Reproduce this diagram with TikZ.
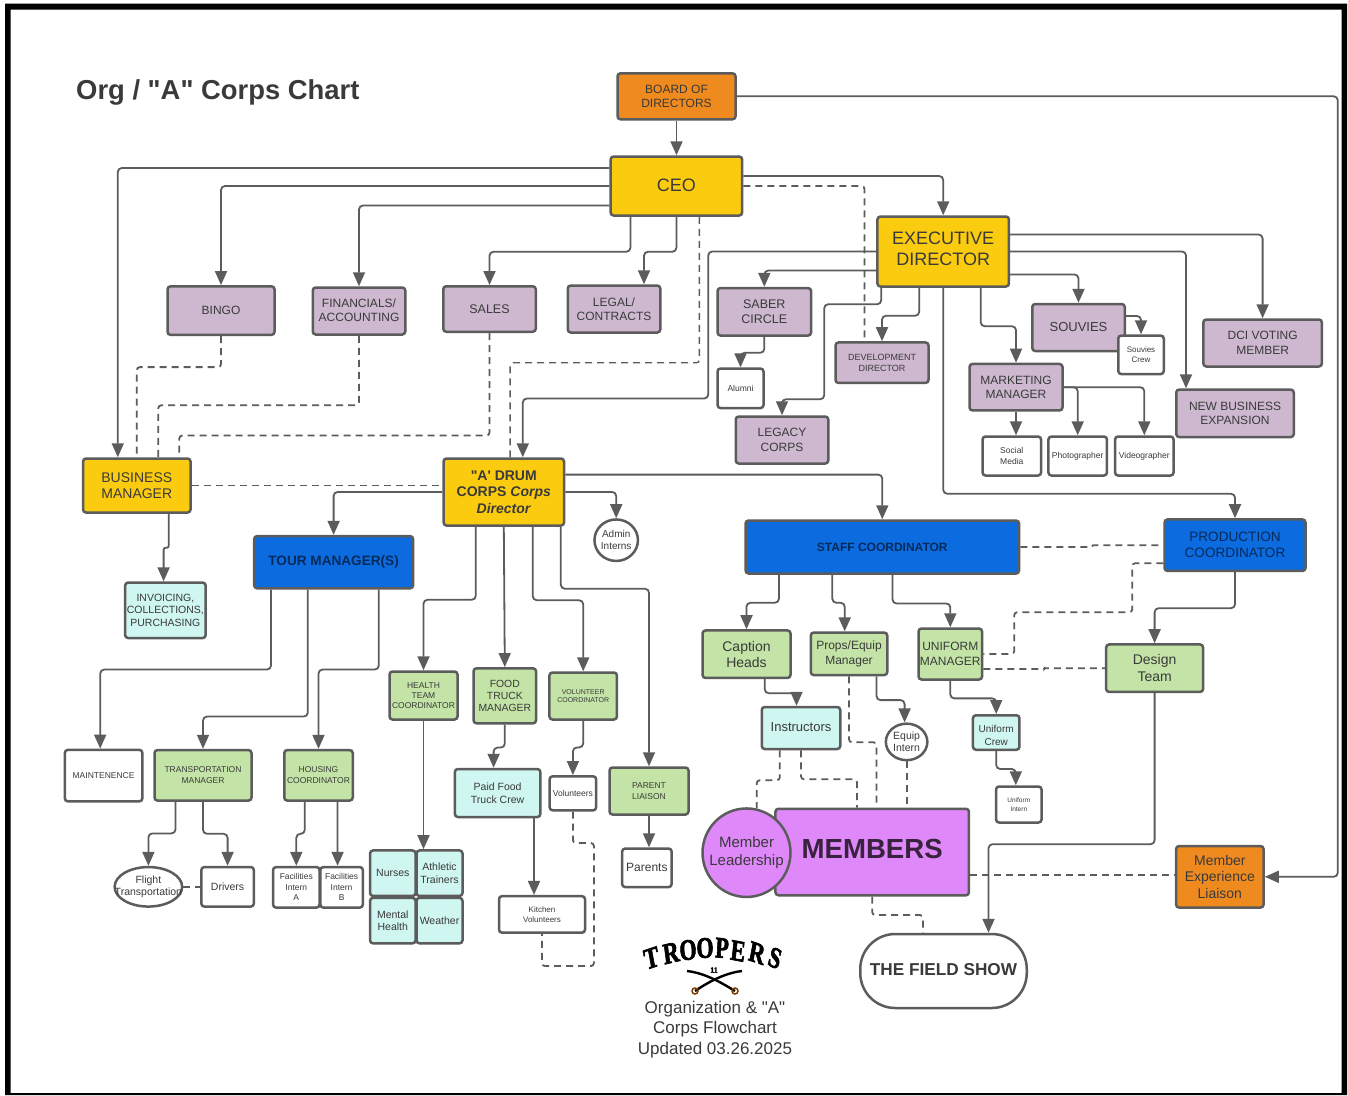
\documentclass[tikz,border=0pt]{standalone}
\usepackage{fontspec}
\usepackage{tikz}
\usetikzlibrary{arrows.meta,shapes.geometric}
\newfontfamily\chartfont{Liberation Sans}
\newfontfamily\logofont{Liberation Serif}[BoldFeatures={FakeBold=2.5}]
\AtBeginDocument{\chartfont}
\definecolor{lineclr}{HTML}{5C5C5C}
\definecolor{inkclr}{HTML}{3A3A3A}
\definecolor{orangeclr}{HTML}{EF8A1E}
\definecolor{yellowclr}{HTML}{FBCB10}
\definecolor{mauveclr}{HTML}{CDB8CF}
\definecolor{greenclr}{HTML}{C3E4A6}
\definecolor{mintclr}{HTML}{CFF6F0}
\definecolor{blueclr}{HTML}{0D6BE0}
\definecolor{violetclr}{HTML}{DF88FA}
\tikzset{
	base/.style={draw=lineclr,line width=2.5pt,rounded corners=3pt,align=center,inner sep=0pt,text=inkclr},
	wh/.style 2 args={minimum width={#1pt+1.5pt},minimum height={#2pt+1.5pt}},
	fsize/.style 2 args={font=\fontsize{#1}{#2}\selectfont},
	orangebox/.style={base,fill=orangeclr},
	yellowbox/.style={base,fill=yellowclr},
	mauvebox/.style={base,fill=mauveclr},
	greenbox/.style={base,fill=greenclr},
	mintbox/.style={base,fill=mintclr},
	bluebox/.style={base,fill=blueclr,text=black!60!blueclr},
	whitebox/.style={base,fill=white},
	oval/.style={base,ellipse,rounded corners=0pt,fill=white},
	link/.style={draw=lineclr,line width=1.8pt,rounded corners=4pt,-{Triangle[length=14pt,width=12pt]}},
	dashlink/.style={draw=lineclr,line width=1.8pt,rounded corners=3pt,dash pattern=on 7pt off 5pt},
}
\begin{document}
\begin{tikzpicture}[x=1pt,y=-1pt]
	\useasboundingbox (0,0) rectangle (1348,1095);
	\fill[white] (0,0) rectangle (1348,1095);
	\fill[black,even odd rule] (5,3.5) rectangle (1347,1095) (10.7,9.5) rectangle (1341.7,1093);
	\node[anchor=west,inner sep=0pt,text=inkclr,font=\bfseries\fontsize{27.4}{32}\selectfont] (title) at (76,92) {Org / "A" Corps Chart};

	%top of the chart
	\node[orangebox,wh={116.5}{44.5},fsize={12}{14.5}] (board) at (676.5,96.3) {BOARD OF\\DIRECTORS};
	\node[yellowbox,wh={130}{57.5},fsize={18}{21}] (ceo) at (676.4,186) {\raisebox{2pt}{CEO}};
	\node[yellowbox,wh={130}{68.5},fsize={18}{21},text depth=6pt] (exec) at (943.2,251.5) {EXECUTIVE\\DIRECTOR};
	\node[yellowbox,wh={106}{52.5},fsize={14}{16.5}] (bman) at (136.8,485.5) {BUSINESS\\MANAGER};
	\node[yellowbox,wh={119}{65.5},font=\bfseries\fontsize{14}{16.5}\selectfont] (drum) at (503.8,492) {"A' DRUM\\CORPS \textit{Corps}\\\textit{Director}};

	%ceo reports
	\node[mauvebox,wh={105.5}{47},fsize={12}{14.5}] (bingo) at (221,310.6) {\raisebox{1pt}{BINGO}};
	\node[mauvebox,wh={91}{45.5},fsize={12}{14.5},text depth=2pt] (fin) at (359,311) {FINANCIALS/\\ACCOUNTING};
	\node[mauvebox,wh={91}{44},fsize={12.5}{14.5}] (sales) at (489.5,309) {SALES};
	\node[mauvebox,wh={91}{45.5},fsize={12}{14.5}] (legal) at (614,309) {LEGAL/\\CONTRACTS};

	%executive director reports
	\node[mauvebox,wh={92}{46},fsize={12.5}{14.5}] (saber) at (764.3,311.8) {SABER\\CIRCLE};
	\node[whitebox,wh={44.5}{38},fsize={8.5}{10.5}] (alumni) at (740.5,388.3) {Alumni};
	\node[mauvebox,wh={91}{45.5},fsize={12}{14.5}] (legacy) at (782,440) {LEGACY\\CORPS};
	\node[mauvebox,wh={91.5}{39},fsize={9}{10.5}] (dev) at (882,362.7) {DEVELOPMENT\\DIRECTOR};
	\node[mauvebox,wh={91}{45.5},fsize={13}{15}] (souvies) at (1078.5,327.5) {\raisebox{1pt}{SOUVIES}};
	\node[whitebox,wh={44}{37},fsize={8}{10}] (crew) at (1141,354.8) {Souvies\\Crew};
	\node[mauvebox,wh={91.5}{45},fsize={12}{14.5}] (marketing) at (1016,387.2) {MARKETING\\MANAGER};
	\node[whitebox,wh={57}{37.5},fsize={8.5}{10.5}] (social) at (1011.8,456) {Social\\Media};
	\node[whitebox,wh={57}{37.5},fsize={8.5}{10.5}] (photo) at (1077.7,456) {Photographer};
	\node[whitebox,wh={57}{37.5},fsize={8.5}{10.5}] (video) at (1144.3,456) {Videographer};
	\node[mauvebox,wh={116}{46},fsize={12}{14.5}] (newbiz) at (1235,413.3) {NEW BUSINESS\\EXPANSION};
	\node[mauvebox,wh={117}{45.5},fsize={12}{14.5}] (dci) at (1262.6,343) {DCI VOTING\\MEMBER};

	%left side
	\node[mintbox,wh={79}{54},fsize={10.5}{12.5}] (inv) at (165.4,610.3) {INVOICING,\\COLLECTIONS,\\PURCHASING};
	\node[bluebox,wh={157.5}{50.7},font=\bfseries\fontsize{13.6}{16}\selectfont] (tour) at (333.6,562.2) {TOUR MANAGER(S)};
	\node[oval,wh={42}{40},inner sep=-2pt,fsize={10}{12}] (admin) at (616.2,540.2) {Admin\\Interns};
	\node[whitebox,wh={76}{50},fsize={8.5}{10.5}] (maint) at (103.6,775.6) {MAINTENENCE};
	\node[greenbox,wh={95.5}{49},fsize={8.5}{10.5}] (trans) at (203,775.3) {TRANSPORTATION\\MANAGER};
	\node[greenbox,wh={67}{49},fsize={8.5}{10.5}] (housing) at (318.5,775.3) {HOUSING\\COORDINATOR};
	\node[oval,wh={66}{38},inner sep=-13pt,fsize={10.5}{12.5}] (flight) at (148.4,886.8) {Flight\\Transportation};
	\node[whitebox,wh={51}{38},fsize={10.5}{12.5}] (drivers) at (227.6,886.8) {Drivers};
	\node[whitebox,wh={45}{39},fsize={8.5}{10.5}] (facA) at (296.3,887.3) {Facilities\\Intern\\A};
	\node[whitebox,wh={41}{39},fsize={8.5}{10.5}] (facB) at (341.6,887.3) {Facilities\\Intern\\B};

	%health and food
	\node[greenbox,wh={66.5}{46.5},fsize={8.5}{10}] (health) at (423.5,695.5) {HEALTH\\TEAM\\COORDINATOR};
	\node[greenbox,wh={61}{53.5},fsize={10.4}{12.3}] (food) at (504.8,695.8) {FOOD\\TRUCK\\MANAGER};
	\node[greenbox,wh={66}{45.5},fsize={7}{8}] (volc) at (583.2,696) {VOLUNTEER\\COORDINATOR};
	\node[mintbox,wh={44}{44},fsize={10.5}{12.5}] (nurses) at (392.8,873.2) {Nurses};
	\node[mintbox,wh={44.5}{44},fsize={10.5}{12.5}] (athletic) at (439.5,873.2) {Athletic\\Trainers};
	\node[mintbox,wh={44}{44},fsize={10.5}{12.5}] (mental) at (392.8,920.6) {Mental\\Health};
	\node[mintbox,wh={44.5}{44},fsize={10.5}{12.5}] (weather) at (439.5,920.6) {Weather};
	\node[mintbox,wh={84}{46.5},fsize={10.5}{12.5}] (paid) at (497.6,793) {Paid Food\\Truck Crew};
	\node[whitebox,wh={45}{32.5},fsize={8.5}{10.5}] (vols) at (572.9,793.3) {Volunteers};
	\node[greenbox,wh={77.5}{45.5},fsize={8.5}{10.5}] (parent) at (649,791) {PARENT\\LIAISON};
	\node[whitebox,wh={48}{37},fsize={12}{13}] (parents) at (646.9,867.8) {Parents};
	\node[whitebox,wh={84.5}{35},fsize={8}{10}] (kitchen) at (542,914.4) {Kitchen\\Volunteers};

	%staff side
	\node[bluebox,wh={272}{51.5},font=\bfseries\fontsize{12}{14}\selectfont] (staff) at (882.3,547) {STAFF COORDINATOR};
	\node[bluebox,wh={139.5}{50},fsize={13.6}{16}] (prod) at (1235,545.2) {PRODUCTION\\COORDINATOR};
	\node[greenbox,wh={86.5}{46},fsize={14}{16}] (caption) at (746.5,654.2) {Caption\\Heads};
	\node[greenbox,wh={75}{41},fsize={12}{14.5}] (props) at (849,653.8) {Props/Equip\\Manager};
	\node[greenbox,wh={62}{49.5},fsize={12}{14.5}] (uniform) at (950.3,654) {UNIFORM\\MANAGER};
	\node[greenbox,wh={95.5}{46},fsize={14}{16.5}] (design) at (1154.6,668.2) {Design\\Team};
	\node[mintbox,wh={77}{40.5},fsize={13}{15}] (instr) at (801,728) {\raisebox{1.5pt}{Instructors}};
	\node[oval,wh={40}{35},inner sep=-2pt,fsize={10.5}{12}] (equip) at (906.6,741.9) {Equip\\Intern};
	\node[mintbox,wh={45}{33},fsize={10}{12.5},text height=26pt] (ucrew) at (996.2,732.5) {Uniform\\Crew};
	\node[whitebox,wh={44}{34.5},fsize={6.5}{8.5}] (uintern) at (1018.8,804.5) {Uniform\\Intern};
	\node[base,fill=violetclr,wh={192}{85},font=\bfseries\fontsize{27.6}{33}\selectfont,text=black!75!violetclr] (members) at (872.2,852) {\raisebox{7pt}{MEMBERS}};
	\node[base,ellipse,rounded corners=0pt,fill=violetclr,wh={86.5}{87},inner sep=-8pt,fsize={15}{18}] (lead) at (746.5,852.7) {Member\\Leadership};
	\node[orangebox,wh={86}{60},fsize={14}{16.5}] (liaison) at (1219.8,876.8) {Member\\Experience\\Liaison};
	\node[whitebox,rounded corners=35pt,wh={165}{72.5},font=\bfseries\fontsize{17.2}{21}\selectfont] (field) at (943.5,971) {\raisebox{3pt}{THE FIELD SHOW}};

	%logo
	\foreach \idx/\ltr/\xc/\yc/\rot in {1/T/651.5/958/14,2/R/671/953/10,3/O/688/950/6,4/O/705/948/2,5/P/722/948/-4,6/E/738/951/-8,7/R/757/953/-14,8/S/775/958/-20}
		\node[inner sep=0pt,transform shape,xscale=.82,yscale=1.1,rotate=\rot,text=black,font=\logofont\bfseries\fontsize{27}{29}\selectfont] (logo\idx) at (\xc,\yc) {\ltr};
	\node[inner sep=0pt,text=black,font=\logofont\bfseries\fontsize{8}{9}\selectfont] (logo11) at (714,970) {11};
	\draw[line width=2.4pt,black] (687,971) .. controls (705,973) and (722,983) .. (735,991);
	\draw[line width=2.4pt,black] (742,971) .. controls (724,973) and (707,983) .. (695,991);
	\draw[line width=1.5pt,black!50!orange] (735,991) circle (3pt);
	\draw[line width=1.5pt,black!50!orange] (695,991) circle (3pt);
	\node[align=center,text=inkclr,inner sep=0pt,fsize={17}{20.5}] (caption2) at (715,1029.5) {Organization \& "A"\\Corps Flowchart\\Updated 03.26.2025};

	%solid links from the top
	\draw[link] (board.south) -- (ceo.north -| board.south);
	\draw[link] (board.east) -- ++(601,0) |- (liaison.east);
	\draw[link] ([yshift=18]ceo.west) -| ([xshift=-19]bman.north);
	\draw[link] (ceo.west) -| (bingo.north);
	\draw[link] ([yshift=-19.5]ceo.west) -| (fin.north);
	\draw[link] ([xshift=-46]ceo.south) -- ++(0,35) -| (sales.north);
	\draw[link] (ceo.south) -- ++(0,35) -| ([xshift=30]legal.north);
	\draw[link] ([yshift=10]ceo.east) -| (exec.north);

	%executive director links
	\draw[link] (exec.west) -- ++(-168,0) -- ++(0,147) -| ([xshift=19]drum.north);
	\draw[link] ([yshift=-19]exec.west) -| (saber.north);
	\draw[link] ([xshift=-62]exec.south) -- ++(0,16.5) -- ++(-57,0) -- ++(0,95) -| (legacy.north);
	\draw[link] ([xshift=-24]exec.south) -- ++(0,28) -| (dev.north);
	\draw[link] ([xshift=37.5]exec.south) -- ++(0,38.5) -| (marketing.north);
	\draw[link] ([yshift=-23]exec.east) -| (souvies.north);
	\draw[link] (exec.east) -| ([xshift=-49]newbiz.north);
	\draw[link] ([yshift=17]exec.east) -| (dci.north);
	\draw[link] (exec.south) -- ++(0,206) -| (prod.north);
	\draw[link] ([yshift=11.5]souvies.east) -| (crew.north);
	\draw[link] (marketing.south) -- (marketing.south |- social.north);
	\draw[link] (marketing.east) -| (photo.north);
	\draw[link] (marketing.east) -| (video.north);
	\draw[link] (saber.south) -- ++(0,16) -| (alumni.north);

	%business manager and drum corps links
	\draw[link,rounded corners=2pt] ([xshift=32]bman.south) -- ++(0,34) -| ([xshift=-1.8]inv.north);
	\draw[link] (drum.west) -| (tour.north);
	\draw[link] (drum.east) -| (admin.north);
	\draw[link] ([yshift=17.4]drum.east) -| (staff.north);
	\draw[link] ([xshift=-28]drum.south) -- ++(0,73) -| (health.north);
	\draw[link] (drum.south) -- (food.north);
	\draw[link] ([xshift=29]drum.south) -- ++(0,73.5) -| (volc.north);
	\draw[link] ([xshift=57]drum.south) -- ++(0,62) -| (parent.north);
	\draw[link] ([xshift=-62.6]tour.south) -- ++(0,80) -| ([xshift=-3.4]maint.north);
	\draw[link] ([xshift=-25.8]tour.south) -- ++(0,127) -| (trans.north);
	\draw[link] ([xshift=45.2]tour.south) -- ++(0,80) -| (housing.north);
	\draw[link] ([xshift=-27.5]trans.south) -- ++(0,31.6) -| (flight.north);
	\draw[link] (trans.south) -- ++(0,32) -| (drivers.north);
	\draw[link] ([xshift=-13.7]housing.south) -- ++(0,32) -| (facA.north);
	\draw[link] ([xshift=19]housing.south) -- ([xshift=-4]facB.north);
	\draw[link] (health.south) -- (health.south |- athletic.north);
	\draw[link] (food.south) -- ++(0,23) -| ([xshift=-4]paid.north);
	\draw[link] (volc.south) -- ++(0,26.7) -| (vols.north);
	\draw[link] (parent.south) -- (parent.south |- parents.north);
	\draw[link] ([xshift=36.4]paid.south) -- ([xshift=-8]kitchen.north);

	%staff links
	\draw[link] ([xshift=-103.4]staff.south) -- ++(0,28) -| (caption.north);
	\draw[link] ([xshift=-50]staff.south) -- ++(0,28) -| ([xshift=-4.3]props.north);
	\draw[link] ([xshift=10.2]staff.south) -- ++(0,28.7) -| (uniform.north);
	\draw[link] (prod.south) -- ++(0,36) -| (design.north);
	\draw[link] (design.south) -- ++(0,151) -| ([xshift=45]field.north);
	\draw[link] ([xshift=18.2]caption.south) -- ++(0,14) -| ([xshift=-4.5]instr.north);
	\draw[link] ([xshift=27.5]props.south) -- ++(0,23.8) -| ([xshift=-2]equip.north);
	\draw[link] (uniform.south) -- ++(0,17.6) -| (ucrew.north);
	\draw[link] (ucrew.south) -- ++(0,18) -| ([xshift=-3]uintern.north);

	%dashed links
	\draw[dashlink] (ceo.east) -| ([xshift=-17.5]dev.north);
	\draw[dashlink,line width=1.4pt] ([xshift=23]ceo.south) -- ++(0,146) -| ([xshift=6.3]drum.north);
	\draw[dashlink] (bingo.south) -- ++(0,31) -| (bman.north);
	\draw[dashlink] (fin.south) -- ++(0,69.5) -| ([xshift=21.5]bman.north);
	\draw[dashlink] (sales.south) -- ++(0,102.5) -| ([xshift=42.5]bman.north);
	\draw[dashlink] (bman.east) -- (bman.east -| drum.west);
	\draw[dashlink] (flight.east) -- (drivers.west);
	\draw[dashlink] (vols.south) -- ++(0,31.5) -- ++(21,0) -- ++(0,123) -| (kitchen.south);
	\draw[dashlink,rounded corners=.8pt] (staff.east) -- ++(72,0) |- (prod.west);
	\draw[dashlink] ([yshift=-18]prod.west) -- ++(-31,0) -- ++(0,49) -- ++(-118,0) |- (uniform.east);
	\draw[dashlink,rounded corners=.8pt] ([yshift=-15]uniform.east) -- ++(61,0) |- (design.west);
	\draw[dashlink] (props.south) -- ++(0,66) -| ([xshift=4.3]members.north);
	\draw[dashlink] (equip.south) -- (equip.south |- members.north);
	\draw[dashlink] ([xshift=-21.2]instr.south) -- ++(0,30) -| (lead.77);
	\draw[dashlink] (instr.south) -- ++(0,29) -| ([xshift=-15.2]members.north);
	\draw[dashlink] (members.south) -- ++(0,18.5) -| ([xshift=-20.5]field.north);
	\draw[dashlink] ([yshift=-23]members.east) -- ([yshift=1.8]liaison.west);
\end{tikzpicture}
\end{document}
